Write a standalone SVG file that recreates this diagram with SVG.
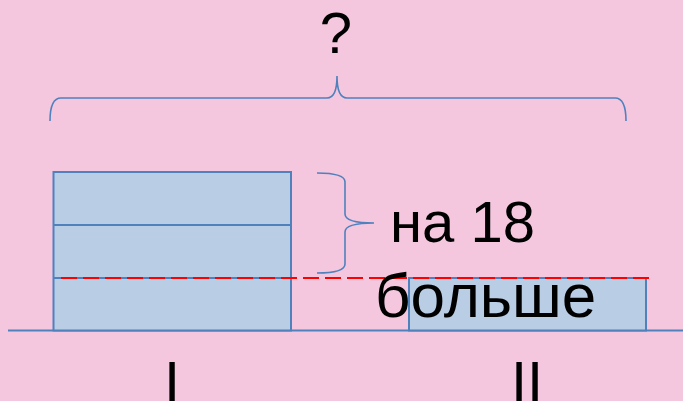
<svg xmlns="http://www.w3.org/2000/svg" width="683" height="401" viewBox="0 0 683 401">
<style>
.bar{fill:#B9CDE5;stroke:#4F81BD;stroke-width:2}
.ln{fill:none;stroke:#4F81BD;stroke-width:2}
.br{fill:none;stroke:#4F81BD;stroke-width:1.6}
.t{font-family:"Liberation Sans",Arial,sans-serif;font-size:58px;fill:#000}
</style>
<rect width="683" height="401" fill="#F4C7DF"/>
<g id="connectors">
<path class="ln" d="M8,330.5 H683"/>
<path id="top-brace" class="br" d="M50,121 Q50,98 61,98 L327,98 Q337,98 337,76 Q337,98 347,98 L615,98 Q626,98 626,121"/>
</g>
<g id="bar1">
<rect class="bar" x="53.5" y="172" width="237.5" height="158.5"/>
<line class="ln" x1="53.5" y1="225" x2="291" y2="225"/>
<line class="ln" x1="53.5" y1="278" x2="291" y2="278"/>
</g>
<g id="bar2">
<rect class="bar" x="409" y="278" width="237" height="52.5"/>
</g>
<g id="dash">
<line x1="61" y1="278" x2="649" y2="278" stroke="#FF0000" stroke-width="2" stroke-dasharray="16 6"/>
</g>
<g id="brace-18">
<path class="br" d="M317,173 Q345,173 345,182 L345,214 Q345,223 374,223 Q345,223 345,232 L345,264 Q345,273 317,273"/>
</g>
<g id="labels">
<text class="t" x="336" y="53" text-anchor="middle">?</text>
<text class="t" x="390" y="242">на 18</text>
<text class="t" x="375" y="317" style="font-size:62px">больше</text>
<text class="t" x="172" y="402" text-anchor="middle">I</text>
<text class="t" x="527" y="402" text-anchor="middle">II</text>
</g>
</svg>
